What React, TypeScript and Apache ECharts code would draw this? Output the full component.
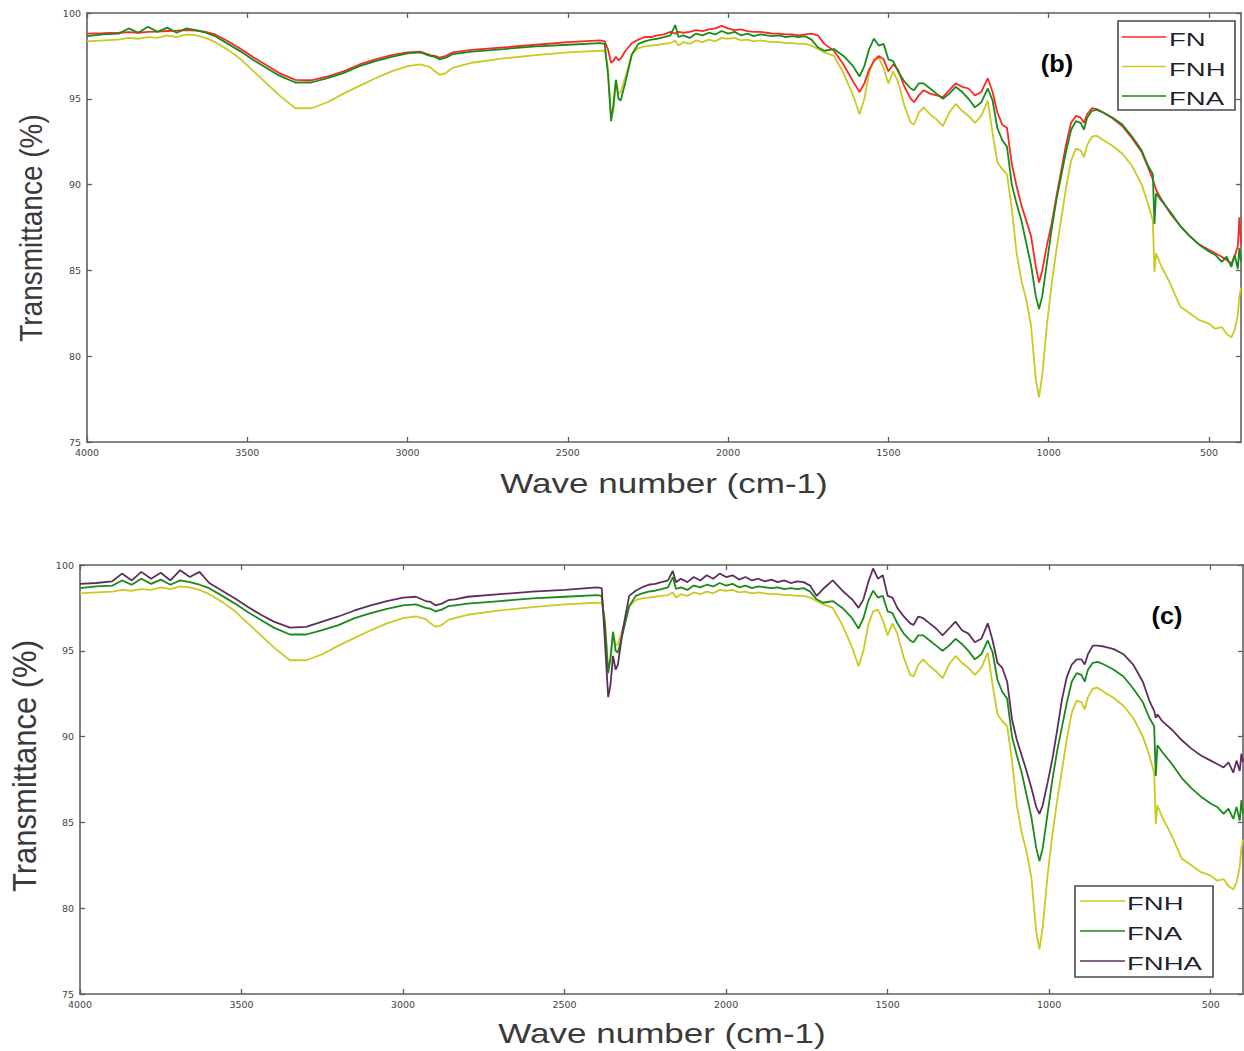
import React, { useEffect, useRef } from "react";
import * as echarts from "echarts";

// Wave numbers (cm-1), shared by every spectrum
const waveNumbers = [
  4000, 3950, 3900, 3870, 3840, 3810, 3780, 3750, 3720, 3690,
  3660, 3630, 3600, 3560, 3520, 3480, 3440, 3400, 3350, 3300,
  3250, 3200, 3150, 3100, 3050, 3000, 2960, 2930, 2915, 2900,
  2880, 2860, 2840, 2800, 2700, 2600, 2500, 2400, 2385, 2375,
  2365, 2358, 2350, 2342, 2335, 2320, 2300, 2280, 2260, 2240,
  2220, 2200, 2180, 2165, 2155, 2140, 2120, 2100, 2080, 2060,
  2040, 2020, 2000, 1980, 1960, 1940, 1920, 1900, 1880, 1860,
  1840, 1820, 1800, 1780, 1760, 1740, 1720, 1700, 1670, 1640,
  1610, 1590, 1575, 1560, 1545, 1530, 1515, 1500, 1485, 1470,
  1450, 1430, 1420, 1405, 1390, 1370, 1350, 1330, 1310, 1290,
  1270, 1250, 1230, 1210, 1190, 1175, 1160, 1145, 1130, 1115,
  1100, 1085, 1070, 1055, 1040, 1030, 1020, 1005, 990, 975,
  960, 945, 930, 915, 900, 890, 880, 865, 850, 830,
  800, 770, 740, 710, 690, 675, 670, 665, 650, 620,
  590, 560, 530, 500, 480, 460, 445, 430, 420, 410,
  405, 400,
];

// Transmittance (%)
const fnValues = [
  98.8, 98.82, 98.85, 98.88, 98.85, 98.9, 98.92, 98.95, 98.97, 99.0,
  98.98, 98.9, 98.75, 98.35, 97.9, 97.4, 96.95, 96.5, 96.1, 96.08,
  96.3, 96.6, 97.0, 97.3, 97.55, 97.7, 97.75, 97.55, 97.5, 97.4,
  97.5, 97.7, 97.75, 97.85, 98.0, 98.15, 98.3, 98.4, 98.35, 97.9,
  97.1, 97.2, 97.45, 97.25, 97.35, 97.8, 98.25, 98.45, 98.6, 98.6,
  98.7, 98.75, 98.9, 98.8, 98.9, 98.85, 98.9, 99.0, 98.95, 99.05,
  99.1, 99.25, 99.1, 99.0, 99.05, 98.95, 98.9, 98.9, 98.85, 98.8,
  98.8, 98.75, 98.75, 98.7, 98.75, 98.8, 98.7, 98.2, 97.8, 97.0,
  96.0, 95.4, 95.9, 96.7, 97.2, 97.5, 97.3, 96.6, 97.0, 96.7,
  95.7, 95.0, 94.8, 95.2, 95.5, 95.3, 95.2, 95.1, 95.5, 95.9,
  95.7, 95.6, 95.2, 95.4, 96.2, 95.4, 94.2, 93.5, 93.3, 91.2,
  89.9, 88.8, 87.9, 87.0, 85.2, 84.3, 85.0, 86.5, 87.8, 89.4,
  90.9, 92.4, 93.6, 94.0, 93.9, 93.6, 94.1, 94.45, 94.4, 94.2,
  93.85, 93.4, 92.7, 91.9, 91.0, 90.3, 90.0, 89.7, 89.2, 88.3,
  87.6, 87.0, 86.5, 86.2, 86.0, 85.8, 85.6, 85.4, 85.8, 86.4,
  88.1, 86.5,
];

const fnhValues = [
  98.35, 98.4, 98.45, 98.55, 98.5, 98.6, 98.55, 98.7, 98.6, 98.75,
  98.7, 98.55, 98.3, 97.85, 97.3, 96.6, 95.9, 95.2, 94.45, 94.45,
  94.8, 95.3, 95.75, 96.2, 96.6, 96.9, 97.0, 96.85, 96.6, 96.4,
  96.5, 96.8, 96.9, 97.1, 97.35, 97.55, 97.7, 97.8, 97.8, 96.8,
  94.0, 94.3, 96.1, 95.3, 95.4, 96.3, 97.6, 97.95, 98.05, 98.1,
  98.15, 98.2, 98.25, 98.4, 98.1, 98.3, 98.2, 98.4, 98.3, 98.45,
  98.35, 98.55, 98.5, 98.55, 98.4, 98.45, 98.35, 98.4, 98.35, 98.3,
  98.3, 98.25, 98.25, 98.2, 98.2, 98.1, 97.9, 97.7, 97.5, 96.5,
  95.2, 94.1, 95.0, 96.5, 97.3, 97.4, 96.8, 95.9, 96.6, 96.0,
  94.6, 93.6, 93.5, 94.2, 94.5, 94.1, 93.8, 93.4, 94.2, 94.7,
  94.3, 94.0, 93.6, 94.0, 94.9, 93.0, 91.3, 90.9, 90.6, 88.6,
  86.0, 84.4, 83.3, 81.8, 78.6, 77.6, 78.9, 81.9, 84.3, 86.3,
  88.1, 89.9, 91.4, 92.1, 92.0, 91.6, 92.3, 92.8, 92.85, 92.6,
  92.25, 91.8, 91.1, 90.0, 88.9, 87.9, 84.9, 86.0, 85.3, 84.2,
  82.9, 82.5, 82.1, 81.9, 81.6, 81.7, 81.3, 81.1, 81.5, 82.4,
  83.5, 84.0,
];

const fnaValues = [
  98.65, 98.75, 98.8, 99.1, 98.85, 99.2, 98.9, 99.15, 98.85, 99.1,
  99.0, 98.85, 98.65, 98.2, 97.75, 97.25, 96.8, 96.35, 95.95, 95.95,
  96.2, 96.5, 96.9, 97.2, 97.45, 97.65, 97.7, 97.5, 97.45, 97.3,
  97.4, 97.6, 97.65, 97.75, 97.9, 98.05, 98.15, 98.25, 98.2, 96.5,
  93.7, 94.6, 96.1, 95.0, 94.9, 96.0, 97.6, 98.2, 98.35, 98.45,
  98.5, 98.6, 98.7, 99.3, 98.6, 98.7, 98.55, 98.8, 98.7, 98.85,
  98.75, 98.95, 98.8, 98.9, 98.7, 98.8, 98.65, 98.75, 98.7, 98.65,
  98.7, 98.6, 98.65, 98.6, 98.65, 98.45, 98.0, 97.8, 97.9, 97.5,
  96.9, 96.3, 96.9, 97.9, 98.5, 98.1, 98.2, 97.3, 97.2, 96.6,
  96.0, 95.6, 95.5, 95.9, 95.9, 95.6, 95.3, 95.0, 95.3, 95.7,
  95.4, 95.0, 94.5, 94.8, 95.6, 94.9, 93.3, 92.6, 92.2, 90.0,
  88.9, 87.9, 86.6, 85.3, 83.5, 82.75, 83.5, 85.5, 87.5, 89.2,
  90.6, 92.0, 93.2, 93.7, 93.6, 93.2, 93.9, 94.3, 94.35, 94.2,
  93.9, 93.5, 92.8, 92.0, 91.1, 90.6, 87.7, 89.5, 89.1, 88.4,
  87.6, 87.0, 86.5, 86.1, 85.9, 85.5, 85.8, 85.2, 85.9, 85.1,
  86.3, 85.5,
];

const fnhaValues = [
  98.9, 98.95, 99.05, 99.5, 99.1, 99.6, 99.2, 99.55, 99.1, 99.7,
  99.3, 99.6, 98.95, 98.5, 98.05, 97.55, 97.1, 96.7, 96.35, 96.4,
  96.7, 97.0, 97.35, 97.65, 97.9, 98.1, 98.15, 97.9, 97.85, 97.65,
  97.75, 97.95, 98.0, 98.15, 98.3, 98.45, 98.55, 98.7, 98.65, 95.5,
  92.3, 93.0, 94.7, 93.9, 94.2, 96.2, 98.2, 98.5, 98.7, 98.85,
  98.9, 99.0, 99.1, 99.65, 99.0, 99.2, 99.0, 99.3, 99.1, 99.4,
  99.2, 99.5, 99.3, 99.4, 99.15, 99.3, 99.1, 99.2, 99.05, 99.15,
  99.0, 99.1, 98.95, 99.05, 99.0, 98.8, 98.2, 98.6, 99.1, 98.5,
  98.0, 97.5, 98.0, 99.0, 99.8, 99.2, 99.4, 98.2, 98.1, 97.5,
  97.0, 96.6, 96.5, 97.0, 96.9, 96.6, 96.3, 95.9, 96.3, 96.7,
  96.2, 96.0, 95.5, 95.7, 96.6, 95.6, 94.3, 94.0, 93.2, 91.0,
  89.8, 88.9, 88.0, 87.0, 85.9, 85.5, 86.0, 87.3, 88.7, 90.4,
  92.2, 93.5, 94.2, 94.5, 94.5, 94.2, 94.8, 95.3, 95.3, 95.25,
  95.1, 94.8, 94.2, 93.2, 92.1, 91.5, 91.1, 91.3, 90.9, 90.4,
  89.8, 89.3, 88.9, 88.6, 88.4, 88.2, 88.5, 87.9, 88.6, 88.0,
  89.0, 88.5,
];

const xTickValues = [4000, 3500, 3000, 2500, 2000, 1500, 1000, 500];
const panelBSeries = ["FN", "FNH", "FNA"];
const panelCSeries = ["FNH", "FNA", "FNHA"];
const seriesValues: Record<string, number[]> = {
  FN: fnValues,
  FNH: fnhValues,
  FNA: fnaValues,
  FNHA: fnhaValues,
};
const seriesColors: Record<string, string> = {
  FN: "#ff2626",
  FNH: "#caca22",
  FNA: "#1a8a1a",
  FNHA: "#5e2f5e",
};
// draw order (first = bottom)
const drawOrderB = ["FNH", "FN", "FNA"];
const drawOrderC = ["FNH", "FNA", "FNHA"];

const AXIS_COLOR = "#5f5f5f";
const LABEL_FONT = "DejaVu Sans";
const TITLE_FONT = "Liberation Sans";

function buildOption() {
  const grids = [
    { left: 87, top: 13, width: 1154, height: 429 },
    { left: 80, top: 565, width: 1163, height: 429 },
  ];

  const xAxes: any[] = [];
  const yAxes: any[] = [];
  grids.forEach((_, gi) => {
    ["bottom", "top"].forEach((pos) => {
      xAxes.push({
        type: "value",
        gridIndex: gi,
        position: pos,
        min: 400,
        max: 4000,
        inverse: true,
        axisLine: { show: true, onZero: false, lineStyle: { color: AXIS_COLOR, width: 1.6 } },
        axisTick: {
          show: true,
          inside: true,
          length: 5,
          customValues: xTickValues,
          lineStyle: { color: AXIS_COLOR, width: 1.3 },
        },
        axisLabel: {
          show: pos === "bottom",
          customValues: xTickValues,
          formatter: (v: number) => String(v),
          margin: 5,
          fontSize: 9.5,
          fontFamily: LABEL_FONT,
          color: "#444",
        },
        splitLine: { show: false },
      });
    });
    ["left", "right"].forEach((pos) => {
      yAxes.push({
        type: "value",
        gridIndex: gi,
        position: pos,
        min: 75,
        max: 100,
        interval: 5,
        axisLine: { show: true, onZero: false, lineStyle: { color: AXIS_COLOR, width: 1.6 } },
        axisTick: { show: true, inside: true, length: 5, lineStyle: { color: AXIS_COLOR, width: 1.3 } },
        axisLabel: {
          show: pos === "left",
          formatter: (v: number) => String(v),
          margin: 6,
          fontSize: 9.5,
          fontFamily: LABEL_FONT,
          color: "#444",
        },
        splitLine: { show: false },
      });
    });
  });

  const makeSeries = (name: string, gi: number) => ({
    name,
    type: "line",
    xAxisIndex: gi * 2,
    yAxisIndex: gi * 2,
    showSymbol: false,
    symbol: "none",
    data: waveNumbers.map((w, i) => [w, seriesValues[name][i]]),
    lineStyle: { color: seriesColors[name], width: 1.8 },
    itemStyle: { color: seriesColors[name] },
    emphasis: { disabled: true },
  });

  const series = [
    ...drawOrderB.map((n) => makeSeries(n, 0)),
    ...drawOrderC.map((n) => makeSeries(n, 1)),
  ];

  const legendGraphic = (
    names: string[],
    box: { x: number; y: number; w: number; h: number },
    rowYs: number[],
    lineX0: number,
    lineX1: number,
    textX: number
  ) => {
    const children: any[] = [
      {
        type: "rect",
        shape: { x: box.x, y: box.y, width: box.w, height: box.h },
        style: { fill: "#fff", stroke: "#4a4a4a", lineWidth: 1.6 },
      },
    ];
    names.forEach((n, i) => {
      children.push({
        type: "line",
        shape: { x1: lineX0, y1: rowYs[i], x2: lineX1, y2: rowYs[i] },
        style: { stroke: seriesColors[n], lineWidth: 1.6 },
      });
      children.push({
        type: "text",
        x: textX,
        y: rowYs[i] + 3,
        scaleX: 1.45,
        style: {
          text: n,
          fontSize: 19,
          fontFamily: TITLE_FONT,
          fill: "#1f1f30",
          textAlign: "left",
          textVerticalAlign: "middle",
        },
      });
    });
    return { type: "group", children, z: 100 };
  };

  const titleText = (
    text: string,
    x: number,
    y: number,
    size: number,
    opts: any = {}
  ) => ({
    type: "text",
    x,
    y,
    z: 100,
    ...opts,
    style: {
      text,
      fontSize: size,
      fontFamily: TITLE_FONT,
      fill: "#3a3a3a",
      textAlign: "center",
      textVerticalAlign: "middle",
      ...(opts.style || {}),
    },
  });

  const graphic = [
    titleText("Wave number (cm-1)", 664, 483, 28, { scaleX: 1.25 }),
    titleText("Wave number (cm-1)", 662, 1033, 28, { scaleX: 1.25 }),
    titleText("Transmittance (%)", 31, 228, 28, { rotation: Math.PI / 2, scaleY: 1.15 }),
    titleText("Transmittance (%)", 24, 766, 31, { rotation: Math.PI / 2, scaleY: 1.1 }),
    titleText("(b)", 1057, 64, 23, {
      scaleX: 1.1,
      style: { fontWeight: "bold", fill: "#000" },
    }),
    titleText("(c)", 1167, 616, 23, {
      scaleX: 1.1,
      style: { fontWeight: "bold", fill: "#000" },
    }),
    legendGraphic(panelBSeries, { x: 1118, y: 21, w: 117, h: 89 }, [37, 66.5, 96], 1122, 1166, 1169),
    legendGraphic(panelCSeries, { x: 1075, y: 886, w: 138, h: 91 }, [901, 931, 961], 1080, 1125, 1127),
  ];

  return {
    animation: false,
    backgroundColor: "#ffffff",
    grid: grids,
    xAxis: xAxes,
    yAxis: yAxes,
    series,
    graphic,
  };
}

export default function App() {
  const ref = useRef<HTMLDivElement>(null);
  useEffect(() => {
    if (!ref.current) return;
    const chart = echarts.init(ref.current, undefined, { renderer: "svg" });
    chart.setOption(buildOption() as any);
    return () => chart.dispose();
  }, []);
  return (
    <div
      ref={ref}
      style={{ position: "absolute", left: 0, top: 0, width: 1244, height: 1051, background: "#fff" }}
    />
  );
}
